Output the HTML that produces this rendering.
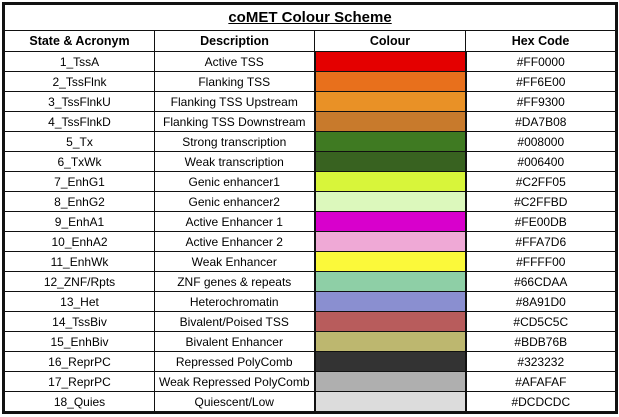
<!DOCTYPE html>
<html><head><meta charset="utf-8"><style>
html,body{margin:0;padding:0;background:#fff;width:619px;height:417px;overflow:hidden}
table{position:absolute;left:4px;top:4px;width:611px;border-collapse:collapse;font-family:"Liberation Sans",sans-serif;font-size:12px;color:#000;table-layout:fixed;outline:2px solid #111}
td,th{border:1.5px solid #111;text-align:center;padding:0;white-space:nowrap;overflow:hidden;line-height:16px}
th{font-weight:bold;font-size:12.5px}
tr{height:20px}
tr.t{height:26px}
tr.h{height:21px}
.title{font-size:15px;text-decoration:underline;font-weight:bold}
.sw{border-right:2.5px solid #111;border-left:2.5px solid #111}
</style></head><body>
<table>
<colgroup><col style="width:150px"><col style="width:160px"><col style="width:151px"><col style="width:150px"></colgroup>
<tr class="t"><th colspan="4" class="title">coMET Colour Scheme</th></tr>
<tr class="h"><th>State &amp; Acronym</th><th>Description</th><th>Colour</th><th>Hex Code</th></tr>
<tbody id="rows"></tbody>
</table>
<script>
const states=["1_TssA","2_TssFlnk","3_TssFlnkU","4_TssFlnkD","5_Tx","6_TxWk","7_EnhG1","8_EnhG2","9_EnhA1","10_EnhA2","11_EnhWk","12_ZNF/Rpts","13_Het","14_TssBiv","15_EnhBiv","16_ReprPC","17_ReprPC","18_Quies"];
const descs=["Active TSS","Flanking TSS","Flanking TSS Upstream","Flanking TSS Downstream","Strong transcription","Weak transcription","Genic enhancer1","Genic enhancer2","Active Enhancer 1","Active Enhancer 2","Weak Enhancer","ZNF genes & repeats","Heterochromatin","Bivalent/Poised TSS","Bivalent Enhancer","Repressed PolyComb","Weak Repressed PolyComb","Quiescent/Low"];
const hexes=["#FF0000","#FF6E00","#FF9300","#DA7B08","#008000","#006400","#C2FF05","#C2FFBD","#FE00DB","#FFA7D6","#FFFF00","#66CDAA","#8A91D0","#CD5C5C","#BDB76B","#323232","#AFAFAF","#DCDCDC"];
const shown=["#e40000","#e8701c","#e99126","#c87a2c","#3f7a22","#386220","#d8f53a","#dcf8bc","#d800cc","#efa9d6","#fbf93a","#8ecfa6","#8a8fd0","#b85c5c","#bdb76f","#333333","#afafaf","#dcdcdc"];
const tb=document.getElementById('rows');
states.forEach((s,i)=>{
 const tr=document.createElement('tr');
 
 
 const a=document.createElement('td');a.textContent=s;
 
 
 const b=document.createElement('td');b.textContent=descs[i];
 
 
 const c=document.createElement('td');c.className='sw';c.style.background=shown[i];
 
 
 const d=document.createElement('td');d.textContent=hexes[i];
 
 
 tr.append(a,b,c,d);tb.appendChild(tr);
});
</script>
</body></html>
